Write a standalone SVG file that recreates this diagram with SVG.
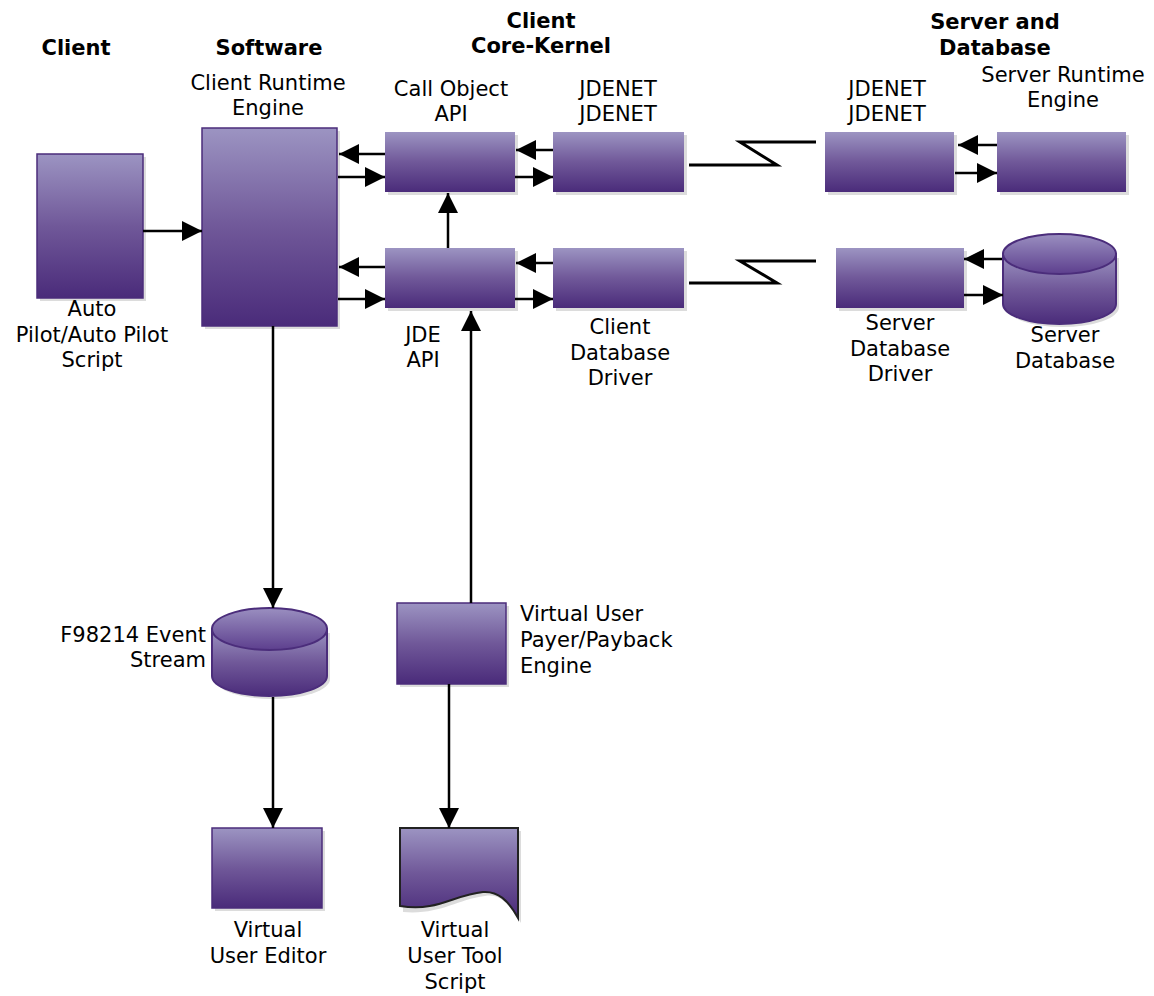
<svg xmlns="http://www.w3.org/2000/svg" width="1154" height="996" viewBox="0 0 1154 996">
<style>
text{font-family:"DejaVu Sans","Verdana",sans-serif;font-size:21px;fill:#000}
.h{font-weight:bold}
.c{text-anchor:middle}
.r{text-anchor:end}
.box{fill:url(#g)}
.bd{stroke:#4b2d7b;stroke-width:1.5}
.sh{fill:#dcdcdc}
.cn{stroke:#000;stroke-width:2.5;fill:none}
.zz{stroke-width:3}
</style>
<defs>
<linearGradient id="g" x1="0" y1="0" x2="0" y2="1">
<stop offset="0" stop-color="#9c94c2"/>
<stop offset="0.5" stop-color="#705899"/>
<stop offset="1" stop-color="#4a2b7a"/>
</linearGradient>
<linearGradient id="gt" x1="0" y1="0" x2="0" y2="1">
<stop offset="0" stop-color="#9a8fc0"/>
<stop offset="1" stop-color="#5d3f8e"/>
</linearGradient>
<marker id="a" viewBox="0 0 20 20" refX="20" refY="10" markerWidth="20" markerHeight="20" markerUnits="userSpaceOnUse" orient="auto">
<path d="M0,0 L20,10 L0,20 z" fill="#000"/>
</marker>
</defs>
<rect width="1154" height="996" fill="#fff"/>

<g id="headers">
<text class="h c" x="76" y="55">Client</text>
<text class="h c" x="269" y="55">Software</text>
<text class="h c" x="541" y="28">Client</text>
<text class="h c" x="541" y="53">Core-Kernel</text>
<text class="h c" x="995" y="29">Server and</text>
<text class="h c" x="995" y="55">Database</text>
</g>

<g id="autopilot">
<rect class="sh" x="40" y="157" width="106" height="144"/>
<rect class="box bd" x="37" y="154" width="106" height="144"/>
<text class="c" x="92" y="316">Auto</text>
<text class="c" x="92" y="342">Pilot/Auto Pilot</text>
<text class="c" x="92" y="367">Script</text>
</g>

<g id="client-runtime">
<rect class="sh" x="205" y="131" width="135" height="198"/>
<rect class="box bd" x="202" y="128" width="135" height="198"/>
<text class="c" x="268" y="90">Client Runtime</text>
<text class="c" x="268" y="115">Engine</text>
</g>

<g id="call-object">
<rect class="sh" x="388" y="135" width="130" height="60"/>
<rect class="box" x="385" y="132" width="130" height="60"/>
<text class="c" x="451" y="96">Call Object</text>
<text class="c" x="451" y="121">API</text>
</g>

<g id="client-jdenet">
<rect class="sh" x="556" y="135" width="131" height="60"/>
<rect class="box" x="553" y="132" width="131" height="60"/>
<text class="c" x="618" y="96">JDENET</text>
<text class="c" x="618" y="121">JDENET</text>
</g>

<g id="jde-api">
<rect class="sh" x="388" y="251" width="130" height="60"/>
<rect class="box" x="385" y="248" width="130" height="60"/>
<text class="c" x="423" y="342">JDE</text>
<text class="c" x="423" y="367">API</text>
</g>

<g id="client-db-driver">
<rect class="sh" x="556" y="251" width="131" height="60"/>
<rect class="box" x="553" y="248" width="131" height="60"/>
<text class="c" x="620" y="334">Client</text>
<text class="c" x="620" y="360">Database</text>
<text class="c" x="620" y="385">Driver</text>
</g>

<g id="server-jdenet">
<rect class="sh" x="828" y="135" width="129" height="60"/>
<rect class="box" x="825" y="132" width="129" height="60"/>
<text class="c" x="887" y="96">JDENET</text>
<text class="c" x="887" y="121">JDENET</text>
</g>

<g id="server-runtime">
<rect class="sh" x="1000" y="135" width="129" height="60"/>
<rect class="box" x="997" y="132" width="129" height="60"/>
<text class="c" x="1063" y="82">Server Runtime</text>
<text class="c" x="1063" y="107">Engine</text>
</g>

<g id="server-db-driver">
<rect class="sh" x="839" y="251" width="128" height="60"/>
<rect class="box" x="836" y="248" width="128" height="60"/>
<text class="c" x="900" y="330">Server</text>
<text class="c" x="900" y="356">Database</text>
<text class="c" x="900" y="381">Driver</text>
</g>

<g id="server-database">
<path class="sh" d="M1006,258 L1119,258 L1119,307 A56.5,20 0 0 1 1006,307 z"/>
<path d="M1003,254 L1003,304 A56.5,20 0 0 0 1116,304 L1116,254 z" fill="url(#g)" stroke="#4b2d7b" stroke-width="2"/>
<ellipse cx="1059.5" cy="254" rx="56.5" ry="20" fill="url(#gt)" stroke="#4b2d7b" stroke-width="2"/>
<text class="c" x="1065" y="342">Server</text>
<text class="c" x="1065" y="368">Database</text>
</g>

<g id="event-stream">
<path class="sh" d="M215,633 L330,633 L330,679 A57.5,20 0 0 1 215,679 z"/>
<path d="M212,629 L212,676 A57.5,20 0 0 0 327,676 L327,629 z" fill="url(#g)" stroke="#4b2d7b" stroke-width="2"/>
<ellipse cx="269.5" cy="629" rx="57.5" ry="21" fill="url(#gt)" stroke="#4b2d7b" stroke-width="2"/>
<text class="r" x="206" y="642">F98214 Event</text>
<text class="r" x="206" y="667">Stream</text>
</g>

<g id="vu-player">
<rect class="sh" x="400" y="606" width="109" height="81"/>
<rect class="box bd" x="397" y="603" width="109" height="81"/>
<text x="520" y="621">Virtual User</text>
<text x="520" y="647">Payer/Payback</text>
<text x="520" y="673">Engine</text>
</g>

<g id="vu-editor">
<rect class="sh" x="215" y="831" width="110" height="80"/>
<rect class="box bd" x="212" y="828" width="110" height="80"/>
<text class="c" x="268" y="937">Virtual</text>
<text class="c" x="268" y="963">User Editor</text>
</g>

<g id="vu-script">
<path class="sh" d="M403,831 L521,831 L521,923 C510,905 500,893 485,896 C455,900 440,915 403,912 z"/>
<path d="M400,828 L518,828 L518,918 C508,900 498,891 483,892 C453,895 438,912 400,906 z" fill="url(#g)" stroke="#222" stroke-width="2"/>
<text class="c" x="455" y="937">Virtual</text>
<text class="c" x="455" y="963">User Tool</text>
<text class="c" x="455" y="989">Script</text>
</g>

<g id="connectors">
<line class="cn" x1="143" y1="231" x2="202" y2="231" marker-end="url(#a)"/>
<line class="cn" x1="385" y1="154" x2="339" y2="154" marker-end="url(#a)"/>
<line class="cn" x1="338" y1="177" x2="385" y2="177" marker-end="url(#a)"/>
<line class="cn" x1="553" y1="150" x2="516" y2="150" marker-end="url(#a)"/>
<line class="cn" x1="515" y1="177" x2="553" y2="177" marker-end="url(#a)"/>
<line class="cn" x1="385" y1="267" x2="339" y2="267" marker-end="url(#a)"/>
<line class="cn" x1="338" y1="299" x2="385" y2="299" marker-end="url(#a)"/>
<line class="cn" x1="553" y1="263" x2="516" y2="263" marker-end="url(#a)"/>
<line class="cn" x1="515" y1="299" x2="553" y2="299" marker-end="url(#a)"/>
<line class="cn" x1="448" y1="248" x2="448" y2="193" marker-end="url(#a)"/>
<line class="cn" x1="997" y1="145" x2="958" y2="145" marker-end="url(#a)"/>
<line class="cn" x1="955" y1="173" x2="997" y2="173" marker-end="url(#a)"/>
<line class="cn" x1="1002" y1="259" x2="964" y2="259" marker-end="url(#a)"/>
<line class="cn" x1="964" y1="295" x2="1003" y2="295" marker-end="url(#a)"/>
<line class="cn" x1="273" y1="326" x2="273" y2="608" marker-end="url(#a)"/>
<line class="cn" x1="273" y1="697" x2="273" y2="828" marker-end="url(#a)"/>
<line class="cn" x1="471" y1="603" x2="471" y2="311" stroke-width="3" marker-end="url(#a)"/>
<line class="cn" x1="449" y1="684" x2="449" y2="828" marker-end="url(#a)"/>
<polyline class="cn zz" points="689,165 777,165 740,142 816,142"/>
<polyline class="cn zz" points="689,283 777,283 740,261 816,261"/>
</g>
</svg>
